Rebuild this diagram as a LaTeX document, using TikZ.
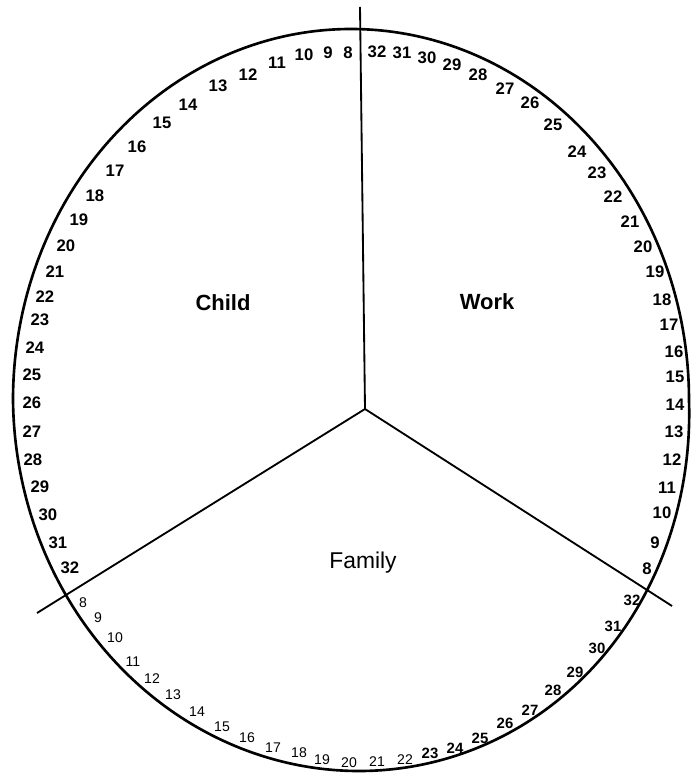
\documentclass[tikz,border=0pt]{standalone}
\usepackage{fontspec}
\setmainfont{Liberation Sans}

\begin{document}
\begin{tikzpicture}[x=0.02cm,y=-0.02cm,
  rim/.style={line width=1.5pt},
  spoke/.style={line width=1.05pt},
  area/.style={font=\fontsize{12.5}{14}\selectfont\bfseries},
  day/.style={inner sep=0pt,font=\fontsize{9.5}{10}\selectfont\bfseries},
  lightday/.style={inner sep=0pt,font=\fontsize{8}{9}\selectfont}]
  \useasboundingbox (0,0) rectangle (690,776);
  \fill[white] (0,0) rectangle (690,776);
  % outline of the wheel (a little fuller at the lower right)
  \draw[rim] plot[domain=0:358,samples=180,smooth cycle,variable=\t]
    ({351+338*cos(\t)+8*max(0,-sin(\t))*(1+0.5*cos(\t))},{400-371*sin(\t)});
  % the three spokes
  \coordinate (top) at (360,7);
  \coordinate (hub) at (365,409);
  \coordinate (leftend) at (37,613);
  \coordinate (rightend) at (672,606);
  \draw[spoke] (top) -- (hub) -- (leftend);
  \draw[spoke] (hub) -- (rightend);
  % sectors
  \node[area] (child) at (223,303) {Child};
  \node[area] (work) at (487,302) {Work};
  \node[font=\fontsize{13}{15}\selectfont] (family) at (363,563) {Family};
  % numbers round the rim
  \foreach \n/\x/\y in {8/348/53, 9/328/53, 10/304/55, 11/277/63, 12/248/75,
    13/218/86, 14/188/105, 15/162/123, 16/137/147, 17/115/171, 18/95/196,
    19/79/220, 20/66/246, 21/55/272, 22/45/297, 23/40/320, 24/35/348,
    25/32/375, 26/32/403, 27/32/432, 28/33/460, 29/40/487, 30/48/515,
    31/58/543, 32/70/568}
    \node[day] (c\n) at (\x,\y) {\n};
  \foreach \n/\x/\y in {32/377/52, 31/402/53, 30/427/58, 29/452/65, 28/478/75,
    27/505/89, 26/530/103, 25/553/125, 24/577/152, 23/597/173, 22/613/197,
    21/630/222, 20/643/247, 19/655/272, 18/662/300, 17/669/325, 16/674/352,
    15/675/377, 14/675/405, 13/674/432, 12/672/460, 11/667/488, 10/662/513,
    9/655/543, 8/647/569}
    \node[day] (w\n) at (\x,\y) {\n};
  \foreach \n/\x/\y in {8/83/603, 9/98/618, 10/115/638, 11/133/662, 12/152/679,
    13/173/695, 14/197/712, 15/222/727, 16/247/738, 17/273/748, 18/299/753,
    19/322/760, 20/349/763, 21/377/762, 22/405/760}
    \node[lightday] (f\n) at (\x,\y) {\n};
  \foreach \n/\x/\y in {23/430/753, 24/455/748, 25/480/738, 26/505/723,
    27/530/710, 28/553/690, 29/575/672, 30/597/648, 31/613/626, 32/632/600}
    \node[day,font=\fontsize{8.5}{9}\selectfont\bfseries] (f\n) at (\x,\y) {\n};
\end{tikzpicture}
\end{document}
